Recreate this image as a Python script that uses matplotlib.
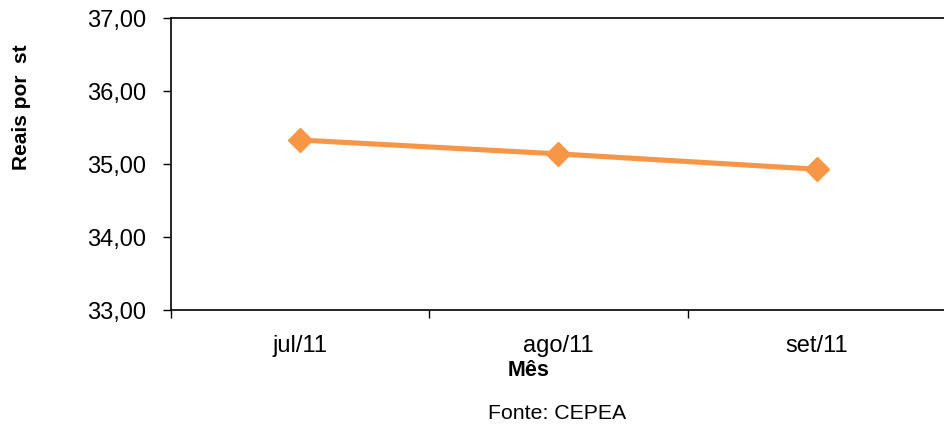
import matplotlib.pyplot as plt

plt.rcParams['font.family'] = ['Liberation Sans', 'DejaVu Sans']

# Monthly price, reais per stere
meses = ['jul/11', 'ago/11', 'set/11']
precos = [35.33, 35.14, 34.93]
y_ticks = [33, 34, 35, 36, 37]

fig = plt.figure(figsize=(9.45, 4.33), dpi=100)
ax = fig.add_axes([0.181, 0.284, 0.82, 0.674])

x = list(range(len(meses)))
ax.plot(x, precos, color='#F79646', linewidth=3.7, marker='D', markersize=12.5,
        solid_capstyle='round')

ax.set_xlim(-0.5, len(meses) - 0.5)
ax.set_ylim(33, 37)
ax.set_yticks(y_ticks)
ax.set_yticklabels([f'{v:.2f}'.replace('.', ',') for v in y_ticks])
ax.set_xticks(x)
ax.set_xticklabels(meses)
ax.set_xticks([i - 0.5 for i in range(len(meses) + 1)], minor=True)

ax.tick_params(axis='y', direction='out', length=6, width=1, pad=12, labelsize=17)
ax.tick_params(axis='x', which='major', length=0, pad=18, labelsize=17)
ax.tick_params(axis='x', which='minor', direction='out', length=6, width=1)

ax.spines['right'].set_visible(False)
for s in ['left', 'bottom', 'top']:
    ax.spines[s].set_linewidth(1.2)

fig.text(0.023, 0.752, 'Reais por  st', rotation=90, fontsize=15,
         fontweight='bold', ha='center', va='center')
fig.text(0.559, 0.145, 'Mês', fontsize=15.5, fontweight='bold', ha='center', va='center')
fig.text(0.590, 0.046, 'Fonte: CEPEA', fontsize=15.3, ha='center', va='center')

fig.savefig('out.png', dpi=100)
